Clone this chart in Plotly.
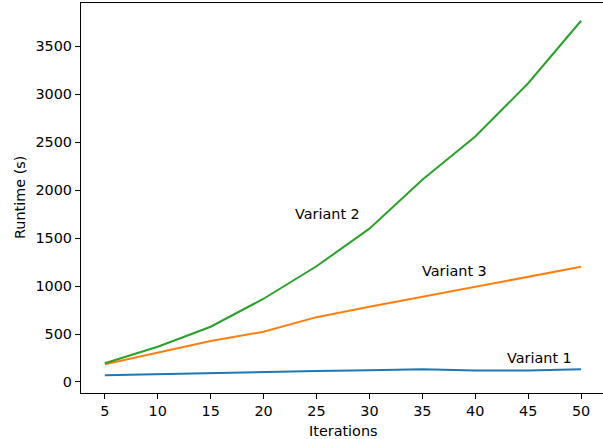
import plotly.graph_objects as go

iterations = [5, 10, 15, 20, 25, 30, 35, 40, 45, 50]
variant1 = [70, 83, 94, 108, 115, 122, 133, 119, 119, 133]
variant3 = [184, 302, 427, 524, 676, 784, 888, 995, 1097, 1201]
variant2 = [195, 368, 576, 868, 1207, 1599, 2109, 2560, 3115, 3767]
y_ticks = [0, 500, 1000, 1500, 2000, 2500, 3000, 3500]

series_names = ["Variant 1", "Variant 3", "Variant 2"]
series_values = [variant1, variant3, variant2]
series_colors = ["#1f77b4", "#ff7f0e", "#2ca02c"]

label_texts = ["Variant 2", "Variant 3", "Variant 1"]
label_x = [23, 35, 43]
label_y = [1700, 1100, 200]

FONT = "DejaVu Sans"
FS = 14.4

fig = go.Figure()
for name, vals, col in zip(series_names, series_values, series_colors):
    fig.add_trace(go.Scatter(x=iterations, y=vals, mode="lines", name=name,
                             line=dict(color=col, width=2)))

for t, x, y in zip(label_texts, label_x, label_y):
    fig.add_annotation(x=x, y=y, text=t, showarrow=False, xanchor="left",
                       yanchor="bottom", font=dict(family=FONT, size=FS, color="black"),
                       borderpad=0, yshift=-4, xshift=-1)

# axis titles
fig.add_annotation(xref="paper", yref="paper", x=(343 - 81) / 522, y=(393 - 431) / 390,
                   text="Iterations", showarrow=False, xanchor="center", yanchor="middle",
                   font=dict(family=FONT, size=FS, color="black"))
fig.add_annotation(xref="paper", yref="paper", x=(20 - 81) / 522, y=0.5,
                   text="Runtime (s)", showarrow=False, xanchor="center", yanchor="middle",
                   textangle=-90, font=dict(family=FONT, size=FS, color="black"))

fig.update_layout(
    width=603, height=439,
    margin=dict(l=81, r=0, t=3, b=46),
    plot_bgcolor="white", paper_bgcolor="white",
    showlegend=False,
    font=dict(family=FONT, size=FS, color="black"),
)
fig.update_xaxes(range=[2.75, 52.07], tickvals=iterations, automargin=False,
                 showgrid=False, zeroline=False,
                 showline=True, linecolor="black", linewidth=1.2, mirror=True,
                 ticks="outside", ticklen=5, tickwidth=1.2, tickcolor="black")
fig.update_yaxes(range=[-115, 3952], tickvals=y_ticks, automargin=False,
                 showgrid=False, zeroline=False,
                 showline=True, linecolor="black", linewidth=1.2, mirror=False,
                 ticks="outside", ticklen=5, tickwidth=1.2, tickcolor="black")

fig.write_html("out.html", config={"displayModeBar": False},
               post_script="document.body.style.margin='0';document.body.style.padding='0';")
